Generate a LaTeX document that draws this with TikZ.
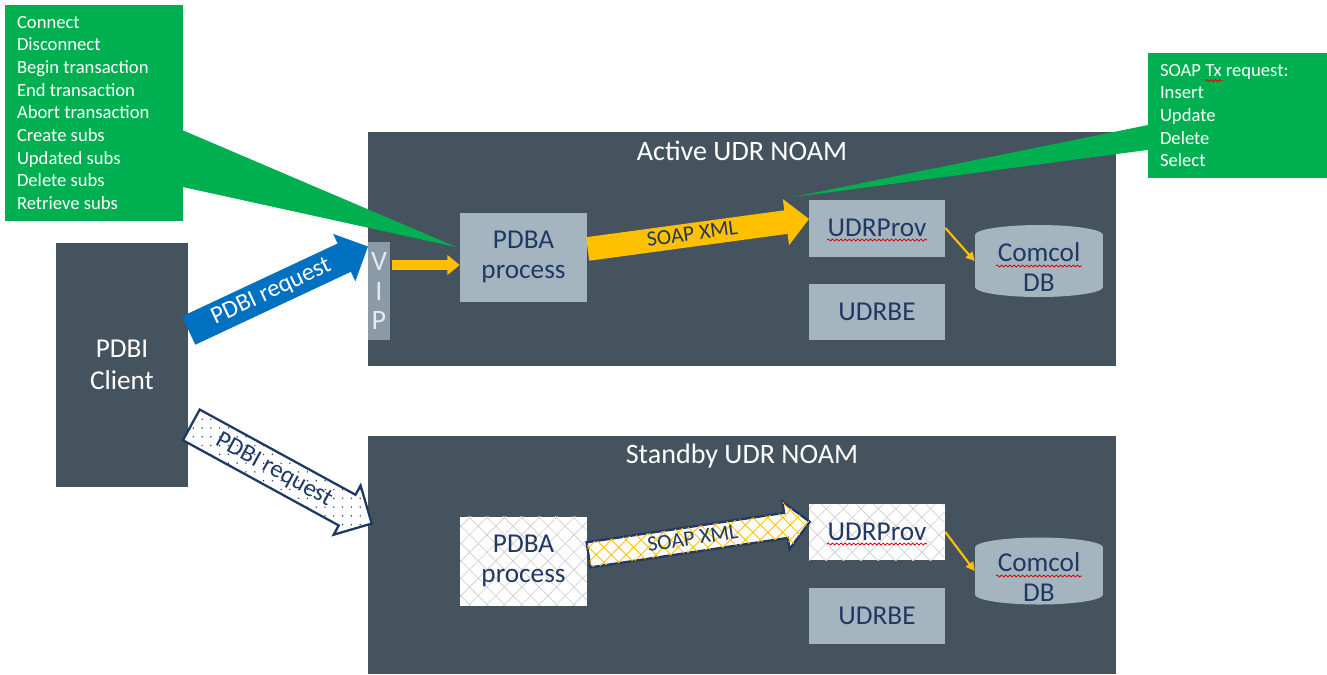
\documentclass[tikz,border=0pt]{standalone}
\usepackage{fontspec}
\setmainfont{Carlito}
\usetikzlibrary{shapes.geometric}
\usetikzlibrary{shapes.arrows}
\usetikzlibrary{positioning}
\usetikzlibrary{arrows.meta}
\usetikzlibrary{calc}
\usetikzlibrary{patterns.meta}
\usetikzlibrary{decorations.pathmorphing}
\definecolor{noambg}{HTML}{44535D}
\definecolor{boxfill}{HTML}{A5B5C0}
\definecolor{vipfill}{HTML}{8A9AA6}
\definecolor{viptext}{HTML}{E4EAEE}
\definecolor{navy}{HTML}{1F3864}
\definecolor{notegreen}{HTML}{00B050}
\definecolor{reqblue}{HTML}{0070C0}
\definecolor{soapgold}{HTML}{FFC000}

\begin{document}
\begin{tikzpicture}[x=0.02cm, y=-0.02cm,
    panel/.style={fill=noambg, minimum width=14.96cm},
    title/.style={text=white, font=\fontsize{16pt}{18pt}\selectfont},
    block/.style={fill=boxfill, text=navy, align=center, minimum width=2.72cm, font=\fontsize{15.5pt}{17pt}\selectfont},
    hatched/.style={fill=white, postaction={pattern={Lines[angle=45,distance=7pt,line width=0.35pt]}, pattern color=gray!40},
      postaction={pattern={Lines[angle=-45,distance=7pt,line width=0.35pt]}, pattern color=gray!40}},
    dbase/.style={minimum width=2.56cm,
      path picture={
        \fill[boxfill] ($(path picture bounding box.north west)+(0,10)$) rectangle ($(path picture bounding box.south east)+(0,-10)$);
        \fill[boxfill] ($(path picture bounding box.north)+(0,10)$) ellipse [x radius=64, y radius=10];
        \fill[boxfill] ($(path picture bounding box.south)+(0,-10)$) ellipse [x radius=64, y radius=10];}},
    dblabel/.style={text=navy, align=center, yshift=-3.4pt, font=\fontsize{15.5pt}{17pt}\selectfont},
    note/.style={fill=notegreen, text=white, align=flush left, inner xsep=0.24cm, font=\fontsize{10.6pt}{12.9pt}\selectfont},
    reqarrow/.style={single arrow, single arrow head extend=6pt, inner ysep=2.2pt, text height=10pt, text depth=3pt, font=\fontsize{14pt}{16pt}\selectfont},
    soaparrow/.style={single arrow, single arrow head extend=6.5pt, inner ysep=0.8pt, text height=9pt, text depth=2.5pt, font=\fontsize{12.3pt}{14pt}\selectfont},
    flow/.style={draw=soapgold, line width=5.5pt, -{Triangle[width=11pt,length=7pt]}},
    thinflow/.style={draw=soapgold, line width=1.2pt, -{Triangle[width=5pt,length=5pt]}},
    squiggle/.style={draw=red!85!black, line width=0.45pt, decorate, decoration={snake, amplitude=0.55pt, segment length=2.4pt}}]
    \useasboundingbox (0,0) rectangle (1327,674);

    % client and the two NOAM panels
    \node[fill=noambg, text=white, align=center, minimum width=2.64cm, minimum height=4.88cm, font=\fontsize{15.5pt}{18pt}\selectfont] (client) at (122,365) {PDBI\\Client};
    \node[panel, minimum height=4.7cm] (active) at (742,249) {};
    \node[panel, minimum height=4.76cm] (standby) at (742,555) {};
    \node[title] (atitle) at (742,151) {Active UDR NOAM};
    \node[title] (stitle) at (742,456) {Standby UDR NOAM};

    % active side
    \node[fill=vipfill, text=viptext, align=center, inner sep=0pt, minimum width=0.44cm, minimum height=1.96cm, font=\fontsize{16pt}{17pt}\selectfont] (vip) at (379,291) {V\\I\\P};
    \node[block, minimum width=2.54cm, minimum height=1.78cm] (pdba1) at (523.5,257) {PDBA\\process};
    \node[block, minimum height=1.14cm] (prov1) at (877,228) {UDRProv};
    \node[block, minimum height=1.12cm] (be1) at (877,312) {UDRBE};
    \node[dbase, minimum height=1.44cm, label={[dblabel]center:{Comcol\\DB}}] (db1) at (1039,261) {};

    % standby side
    \node[block, hatched, minimum width=2.54cm, minimum height=1.78cm] (pdba2) at (523.5,561) {PDBA\\process};
    \node[block, hatched, minimum height=1.12cm] (prov2) at (877,532) {UDRProv};
    \node[block, minimum height=1.12cm] (be2) at (877,616) {UDRBE};
    \node[dbase, minimum height=1.34cm, label={[dblabel]center:{Comcol\\DB}}] (db2) at (1039,571) {};

    % spell-check marks
    \draw[squiggle] ($(prov1.center)+(-50,12)$) -- ($(prov1.center)+(50,12)$);
    \draw[squiggle] ($(prov2.center)+(-50,12)$) -- ($(prov2.center)+(50,12)$);
    \draw[squiggle] ($(db1.center)+(-43,5)$) -- ($(db1.center)+(43,5)$);
    \draw[squiggle] ($(db2.center)+(-43,5)$) -- ($(db2.center)+(43,5)$);

    % end points of the block arrows
    \coordinate (req1a) at ($(client.north east)+(0,88)$);
    \coordinate (req1b) at ($(vip.north west)+(0,5)$);
    \coordinate (req2a) at ($(client.south east)+(2,-63)$);
    \coordinate (req2b) at ($(standby.west)+(3,-32)$);
    \coordinate (soap1a) at ($(pdba1.east)+(0,-8)$);
    \coordinate (soap1b) at ($(prov1.west)+(0,-9)$);
    \coordinate (soap2a) at ($(pdba2.east)+(0,-6)$);
    \coordinate (soap2b) at ($(prov2.west)+(0,-10)$);

    \path let \p1=($(req1b)-(req1a)$), \n1={atan2(\y1,\x1)}, \n2={veclen(\x1,\y1)} in
      node[reqarrow, fill=reqblue, text=white, anchor=tail, rotate=\n1, minimum height=\n2] (req1) at (req1a) {PDBI request};
    \path let \p1=($(req2b)-(req2a)$), \n1={atan2(\y1,\x1)}, \n2={veclen(\x1,\y1)} in
      node[reqarrow, fill=white, draw=navy, line width=1.3pt, text=navy, inner ysep=2.8pt, anchor=tail, rotate=\n1, minimum height=\n2,
        postaction={pattern={Dots[radius=0.45pt,distance=5pt]}, pattern color=navy}] (req2) at (req2a) {PDBI request};
    \path let \p1=($(soap1b)-(soap1a)$), \n1={atan2(\y1,\x1)}, \n2={veclen(\x1,\y1)} in
      node[soaparrow, fill=soapgold, text=navy, anchor=tail, rotate=\n1, minimum height=\n2] (soap1) at (soap1a) {SOAP XML};
    \path let \p1=($(soap2b)-(soap2a)$), \n1={atan2(\y1,\x1)}, \n2={veclen(\x1,\y1)} in
      node[soaparrow, fill=white, draw=navy, line width=1.3pt, text=navy, anchor=tail, rotate=\n1, minimum height=\n2,
        postaction={pattern={Lines[angle=45,distance=6pt,line width=0.5pt]}, pattern color=soapgold},
        postaction={pattern={Lines[angle=-45,distance=6pt,line width=0.5pt]}, pattern color=soapgold}] (soap2) at (soap2a) {SOAP XML};

    \draw[flow] ($(vip.east)+(2,-26)$) -- ($(pdba1.west)+(0,8)$);
    \draw[thinflow] (prov1.east) -- (db1.west);
    \draw[thinflow] (prov2.east) -- (db2.west);

    % callouts
    \node[note, text width=3.08cm, minimum height=4.32cm] (ops) at (94,113) {Connect\\Disconnect\\Begin transaction\\End transaction\\Abort transaction\\Create subs\\Updated subs\\Delete subs\\Retrieve subs};
    \node[note, text width=3.1cm, minimum height=2.5cm] (txops) at (1237.5,115.5) {SOAP Tx request:\\Insert\\Update\\Delete\\Select};
    \draw[squiggle] ($(txops.north west)+(58,28)$) -- ($(txops.north west)+(75,28)$);
    \fill[notegreen] ($(ops.north east)+(-2,125)$) -- ($(pdba1.north west)+(-3,35)$) -- ($(ops.north east)+(-2,182)$) -- cycle;
    \fill[notegreen] ($(txops.north west)+(2,72)$) -- ($(prov1.north west)+(-16,-2)$) -- ($(txops.north west)+(2,97)$) -- cycle;
\end{tikzpicture}
\end{document}
